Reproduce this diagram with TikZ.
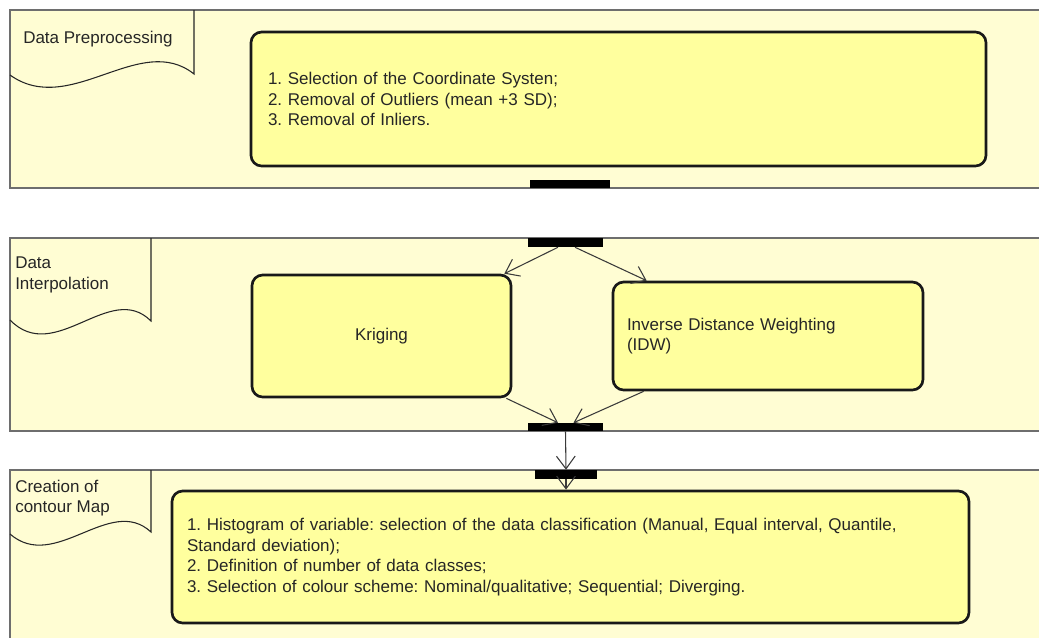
\documentclass[tikz,border=0pt]{standalone}
\usepackage{fontspec}
\setmainfont{Liberation Sans}
\usetikzlibrary{arrows.meta,calc}
\definecolor{lanefill}{HTML}{FFFDD3}
\definecolor{boxfill}{HTML}{FFFF9E}
\definecolor{laneline}{HTML}{6E6E6E}
\definecolor{txtc}{HTML}{262626}
\definecolor{arrowc}{HTML}{3A3A3A}
\newcommand\lanefont{\fontsize{12.75}{15.6}\selectfont\frenchspacing}
\tikzset{
 lane/.style={fill=lanefill, draw=laneline, line width=1.1pt},
 tabline/.style={draw=black!85, line width=0.8pt},
 actbox/.style={draw=black!90, fill=boxfill, line width=2pt, rounded corners=8pt, inner sep=0pt, font=\lanefont, text=txtc},
 bar/.style={fill=black, draw=none, inner sep=0pt},
 flow/.style={draw=arrowc, line width=0.8pt, -{Straight Barb[length=9.5pt,width=14pt]}},
 lbl/.style={font=\lanefont, text=txtc, inner sep=0pt}
}
\begin{document}
\begin{tikzpicture}[x=0.75pt,y=-0.75pt]
\useasboundingbox (0,0) rectangle (1039,637);
\clip (0,0) rectangle (1039,637);
\fill[white] (0,0) rectangle (1039,637);
% lanes
\path[lane] (10,10) rectangle (1060,188);
\path[lane] (10,238) rectangle (1060,431);
\path[lane] (10,470) rectangle (1060,660);
% tabs
\draw[tabline] (194,10) -- (194,74) .. controls (140,31) and (70,118) .. (10,75);
\draw[tabline] (151,238) -- (151,321) .. controls (110,280) and (55,366) .. (10,320);
\draw[tabline] (151,470) -- (151,532) .. controls (110,494) and (55,573) .. (10,534);
\node[lbl, anchor=base west] (t1) at (23,43) {Data Preprocessing};
\node[lbl, anchor=north west, align=left] (t2) at (15,257) {Data\\Interpolation};
\node[lbl, anchor=north west, align=left] (t3) at (15,479.5) {Creation of\\contour Map};
% activity boxes
\node[actbox, minimum width=551.25pt, minimum height=100.5pt, text width=525.75pt, align=left] (box1) at (618.5,99)
 {1. Selection of the Coordinate Systen;\\2. Removal of Outliers (mean +3 SD);\\3. Removal of Inliers.};
\node[actbox, minimum width=194.25pt, minimum height=91.5pt, align=center] (krig) at (381.5,336) {Kriging};
\node[actbox, minimum width=232.5pt, minimum height=81pt, text width=211.5pt, align=left] (idw) at (768,336)
 {Inverse Distance Weighting\\(IDW)};
\node[actbox, minimum width=597.75pt, minimum height=99pt, text width=575.25pt, align=left] (box3) at (570.5,557)
 {1. Histogram of variable: selection of the data classification (Manual, Equal interval, Quantile,\\Standard deviation);\\2. Definition of number of data classes;\\3. Selection of colour scheme: Nominal/qualitative; Sequential; Diverging.};
% bars
\node[bar, minimum width=60pt, minimum height=6pt] (bar1) at (570,184) {};
\node[bar, minimum width=56.25pt, minimum height=6.75pt] (bar2) at (565.5,242.5) {};
\node[bar, minimum width=56.25pt, minimum height=6pt] (bar3) at (565.5,427) {};
\node[bar, minimum width=46.5pt, minimum height=6.75pt] (bar4) at (566,474.5) {};
% connectors
\draw[flow] ($(bar2.south)+(-7.5,0)$) -- ($(krig.north east)+(-8,0)$);
\draw[flow] ($(bar2.south)+(9.5,0)$) -- ($(idw.north west)+(35,0)$);
\draw[flow] ($(krig.south east)+(-6,0)$) -- ($(bar3.north)+(-7.5,0)$);
\draw[flow] ($(idw.south west)+(32,0)$) -- ($(bar3.north)+(8,0)$);
\draw[flow] (bar3.south) -- (bar4.north);
\draw[flow] (bar4.south) -- (bar4.south |- box3.north);
\end{tikzpicture}
\end{document}
